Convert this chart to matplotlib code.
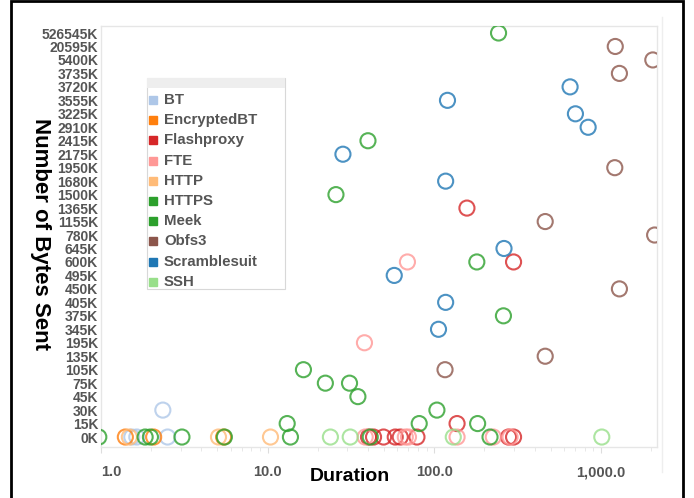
import matplotlib
matplotlib.use("Agg")
import matplotlib.pyplot as plt
from matplotlib.patches import Rectangle
from matplotlib.lines import Line2D
from matplotlib.ticker import FixedLocator, NullFormatter, LogLocator

plt.rcParams['font.family'] = ['Liberation Sans', 'DejaVu Sans']

# ---------------- data ----------------
byte_labels = ['0K', '15K', '30K', '45K', '75K', '105K', '135K', '195K', '345K', '375K',
               '405K', '450K', '495K', '600K', '645K', '780K', '1155K', '1365K', '1500K',
               '1680K', '1950K', '2175K', '2415K', '2910K', '3225K', '3555K', '3720K',
               '3735K', '5400K', '20595K', '526545K']

protocols = ['BT', 'EncryptedBT', 'Flashproxy', 'FTE', 'HTTP', 'HTTPS', 'Meek',
             'Obfs3', 'Scramblesuit', 'SSH']
colors = ['#aec7e8', '#ff7f0e', '#d62728', '#ff9896', '#ffbb78', '#2ca02c', '#2ca02c',
          '#8c564b', '#1f77b4', '#98df8a']

bt_dur = [2.35, 1.53, 1.64, 2.51]
bt_bytes = ['30K', '0K', '0K', '0K']

encbt_dur = [1.40, 2.07, 5.44]
encbt_bytes = ['0K', '0K', '0K']

flash_dur = [157, 299, 137, 40.3, 43.2, 49.6, 58.3, 62.5, 78.7, 279, 299]
flash_bytes = ['1365K', '600K', '15K', '0K', '0K', '0K', '0K', '0K', '0K', '0K', '0K']

fte_dur = [69, 38.1, 38.5, 67, 70, 137, 226, 285]
fte_bytes = ['600K', '195K', '0K', '0K', '0K', '0K', '0K', '0K']

http_dur = [1.48, 5.07, 10.4]
http_bytes = ['0K', '0K', '0K']

https_dur = [243, 40, 25.7, 180, 260, 16.4, 22.2, 31, 34.8]
https_bytes = ['526545K', '2415K', '1500K', '600K', '375K', '105K', '75K', '75K', '45K']

meek_dur = [103.7, 81.2, 182, 13.1, 0.97, 1.84, 1.98, 3.06, 5.5, 13.7, 41.3, 216]
meek_bytes = ['30K', '15K', '15K', '15K', '0K', '0K', '0K', '0K', '0K', '0K', '0K', '0K']

obfs3_dur = [1219, 2048, 1291, 1211, 463, 2100, 1291, 463, 116]
obfs3_bytes = ['20595K', '5400K', '3735K', '1950K', '1155K', '780K', '450K', '135K', '105K']

scramble_dur = [653, 120, 703, 838, 28.3, 117, 262, 57.5, 117, 106]
scramble_bytes = ['3720K', '3555K', '3225K', '2910K', '2175K', '1680K', '645K', '495K',
                  '405K', '345K']

ssh_dur = [23.8, 31.3, 130, 1012]
ssh_bytes = ['0K', '0K', '0K', '0K']

series = [(bt_dur, bt_bytes), (encbt_dur, encbt_bytes), (flash_dur, flash_bytes),
          (fte_dur, fte_bytes), (http_dur, http_bytes), (https_dur, https_bytes),
          (meek_dur, meek_bytes), (obfs3_dur, obfs3_bytes), (scramble_dur, scramble_bytes),
          (ssh_dur, ssh_bytes)]

x_ticks = [1, 10, 100, 1000]
x_tick_labels = ['1.0', '10.0', '100.0', '1,000.0']

# ---------------- figure ----------------
W, H = 694, 498
fig = plt.figure(figsize=(W / 100, H / 100), dpi=100)
fig.patch.set_facecolor('white')


def fx(x):
    return x / W


def fy(y):
    return 1 - y / H


ax = fig.add_axes([fx(101), fy(447), (657 - 101) / W, (447 - 26) / H])
ax.set_xscale('log')
ax.set_xlim(1.0, 2170)
ax.set_ylim(-0.74, len(byte_labels) - 1 + 0.52)

ypos = {lab: i for i, lab in enumerate(byte_labels)}

for (durs, bys), col in zip(series, colors):
    ax.scatter(durs, [ypos[b] for b in bys], s=118, facecolors='none',
               edgecolors=col, linewidths=1.5, alpha=0.8, zorder=3)

ax.set_yticks(range(len(byte_labels)))
ax.set_yticklabels(byte_labels, fontsize=10, fontweight='bold', color='#555555')
ax.tick_params(axis='y', length=0, pad=2)

ax.xaxis.set_major_locator(FixedLocator(x_ticks))
ax.set_xticklabels(x_tick_labels, fontsize=10.5, fontweight='bold', color='#555555')
ax.xaxis.set_minor_locator(LogLocator(base=10, subs=range(2, 10)))
ax.xaxis.set_minor_formatter(NullFormatter())
ax.tick_params(axis='x', which='major', length=4, color='#dddddd', pad=9)
ax.tick_params(axis='x', which='minor', length=3, color='#e4e4e4')
ax.get_xticklabels()[0].set_horizontalalignment('left')

for sp in ax.spines.values():
    sp.set_color('#e6e6e6')
    sp.set_linewidth(1)

fig.text(fx(350), fy(476), 'Duration', fontsize=14, fontweight='bold', color='black',
         ha='center', va='center')

fig.text(fx(40), fy(234), 'Number of Bytes Sent', fontsize=16, fontweight='bold',
         color='black', rotation=270, ha='center', va='center')

# ---------------- legend (manual) ----------------
lx0, lx1, ly0, ly1 = 147, 285, 78, 289
fig.add_artist(Rectangle((fx(lx0), fy(ly1)), (lx1 - lx0) / W, (ly1 - ly0) / H,
                         transform=fig.transFigure, facecolor='white',
                         edgecolor='#d8d8d8', linewidth=0.8, zorder=5))
fig.add_artist(Rectangle((fx(lx0), fy(88)), (lx1 - lx0) / W, (88 - ly0) / H,
                         transform=fig.transFigure, facecolor='#eeeeee',
                         edgecolor='none', zorder=6))
for i, (name, col) in enumerate(zip(protocols, colors)):
    yc = 100 + i * 20.2
    fig.add_artist(Line2D([fx(153)], [fy(yc)], marker='s', markersize=5.5,
                          markerfacecolor=col, markeredgecolor=col, linestyle='none',
                          transform=fig.transFigure, zorder=7))
    fig.text(fx(164), fy(yc), name, fontsize=10.8, fontweight='bold', color='#555555',
             ha='left', va='center', zorder=7)

# faint pane line and outer black frame
fig.add_artist(Line2D([fx(662), fx(662)], [fy(17), fy(472)], color='#eeeeee', lw=1,
                      transform=fig.transFigure))
fig.add_artist(Rectangle((fx(11), -0.05), (683 - 11) / W, fy(1.5) + 0.05,
                         transform=fig.transFigure, fill=False, edgecolor='black',
                         linewidth=2, zorder=10))

fig.savefig('out.png', dpi=100)
